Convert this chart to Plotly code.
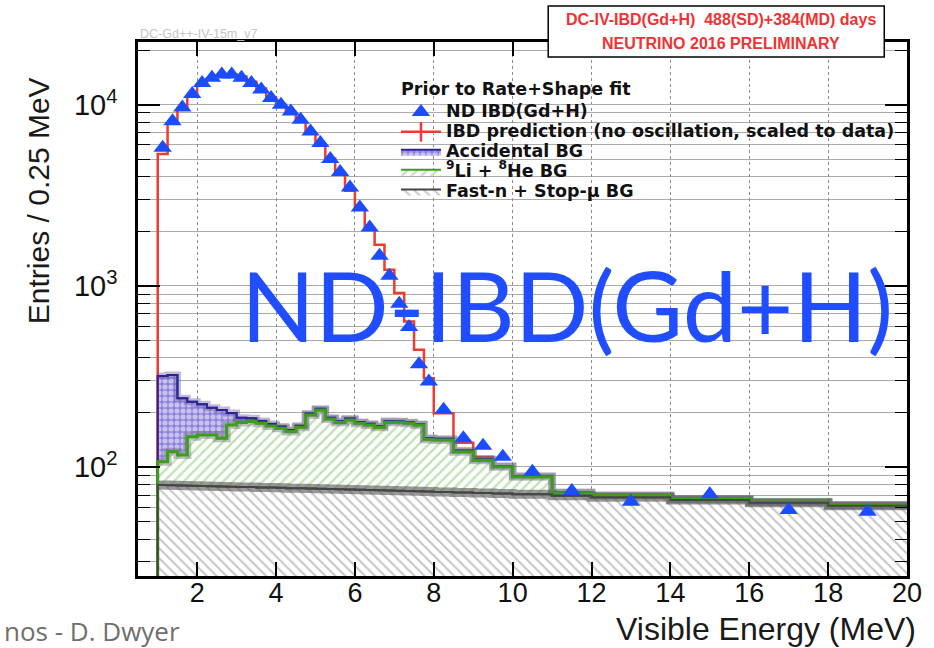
import numpy as np
import plotly.graph_objects as go

# ---------------------------------------------------------------- data
# Visible-energy binning (MeV): 0.25 MeV bins to 8 MeV, then 0.5, 1 and 2 MeV bins
BIN_EDGES = [1.0, 1.25, 1.5, 1.75, 2.0, 2.25, 2.5, 2.75, 3.0, 3.25, 3.5, 3.75,
             4.0, 4.25, 4.5, 4.75, 5.0, 5.25, 5.5, 5.75, 6.0, 6.25, 6.5, 6.75,
             7.0, 7.25, 7.5, 7.75, 8.0, 8.5, 9.0, 9.5, 10.0, 11.0, 12.0,
             14.0, 16.0, 18.0, 20.0]

# ND IBD(Gd+H) candidates, entries / 0.25 MeV
ND_DATA = [5780, 8090, 9660, 11460, 13190, 14070, 14660, 14660, 14070, 13190,
           12110, 10890, 10000, 9180, 8260, 7110, 6140, 5010, 4250, 3490,
           2710, 2100, 1465, 1135, 796, 592, 369, 296,
           207, 144, 131, 114, 94.2, 73.7, 64.3, 70.6, 57.9, 56.6]

# IBD prediction (no oscillation, scaled to data), signal + backgrounds
PREDICTION = [5350, 7900, 9500, 11300, 13000, 14000, 14600, 14700, 14300, 13400,
              12300, 11000, 10000, 9100, 8100, 7000, 6000, 5050, 4200, 3350,
              2650, 2060, 1687, 1225, 912, 635, 443, 309,
              198, 136, 114, 101, 89.0, 72.5, 69.8, 66.4, 64.0, 61.5]

# Background components (stacked: fast-n, then 9Li+8He, then accidentals)
FASTN_BG = [79.5, 79.2, 79.0, 78.8, 78.5, 78.3, 78.1, 77.8, 77.6, 77.4,
            77.1, 76.9, 76.7, 76.4, 76.2, 76.0, 75.7, 75.5, 75.3, 75.0,
            74.8, 74.6, 74.3, 74.1, 73.9, 73.6, 73.4, 73.2,
            72.8, 72.3, 71.8, 71.3, 70.6, 69.4, 68.0, 65.8, 63.5, 61.0]
LI_HE_BG = [27.5, 42.3, 37.5, 68.2, 71.5, 71.9, 65.9, 92.8, 98.1, 100.6,
            97.2, 91.5, 86.8, 80.3, 89.4, 117.8, 130.8, 108.7, 100.4, 106.9,
            99.5, 96.0, 91.3, 102.5, 102.7, 100.7, 97.2, 69.0,
            68.2, 49.2, 37.2, 29.1, 17.8, 2.7, 1.5, 0.4, 0.3, 0.3]
ACCIDENTAL_BG = [211, 200, 123, 82, 72, 62, 62, 28, 11, 8,
                 5, 4, 4, 3.5, 3.5, 3.2, 3.0, 3.0, 3.0, 3.0,
                 2.8, 2.8, 2.6, 2.5, 2.4, 2.3, 2.2, 2.2,
                 2.0, 1.6, 1.2, 0.9, 0.6, 0.4, 0.3, 0.2, 0.2, 0.2]

Y_TICKS = [100, 1000, 10000]
Y_TICK_TEXT = ["10<sup>2</sup>", "10<sup>3</sup>", "10<sup>4</sup>"]
X_TICKS = [2, 4, 6, 8, 10, 12, 14, 16, 18, 20]

# ---------------------------------------------------------------- layout constants
W, H = 934, 648
L, R, T, B = 138, 18, 42, 72          # plot-area margins (px)
X_RANGE = [0.5, 20.0]
Y_RANGE = [1.398, 4.346]              # log10 of axis limits
Y_FLOOR = 1.0                         # below the axis: histogram edges start here

SANS = "Liberation Sans, Arial, sans-serif"
WIDE = "DejaVu Sans, Liberation Sans, sans-serif"
LEG_PX = 17.5                         # legend label size (entries spaced by a 13 px legend font)

RED = "#ee3b2d"
BLUE_DATA = "#1b4dff"
GREEN = "#3c9e1e"
ACC_LINE = "#2c2590"
FAST_LINE = "#454545"


def px_x(px):
    return (px - L) / (W - L - R)


def px_y(py):
    return (H - B - py) / (H - T - B)


def leg(text):
    return '<span style="font-size:%.1fpx">%s</span>' % (LEG_PX, text)


edges = np.array(BIN_EDGES)
centers = 0.5 * (edges[:-1] + edges[1:])

fast_top = np.array(FASTN_BG)
li_top = fast_top + np.array(LI_HE_BG)
acc_top = li_top + np.array(ACCIDENTAL_BG)


def step(vals, from_floor=True):
    """Histogram outline for line_shape='hv', optionally rising from below the axis."""
    vals = np.asarray(vals, dtype=float)
    if from_floor:
        xs = np.concatenate([[edges[0]], edges])
        ys = np.concatenate([[Y_FLOOR], vals, [vals[-1]]])
    else:
        xs = edges.copy()
        ys = np.concatenate([vals, [vals[-1]]])
    return xs, ys


fig = go.Figure()

# ---- stacked, hatched background fills
x, y = step(fast_top)
fig.add_trace(go.Scatter(
    x=x, y=y, mode="lines", line=dict(shape="hv", width=2, color=FAST_LINE),
    fill="tozeroy",
    fillpattern=dict(shape="\\", fgcolor="#8a8a8a", bgcolor="white", size=7, solidity=0.28),
    name=leg("Fast-n + Stop-\u03bc BG"), legendrank=5, hoverinfo="skip"))

x, y = step(li_top)
fig.add_trace(go.Scatter(
    x=x, y=y, mode="lines", line=dict(shape="hv", width=2, color=GREEN),
    fill="tonexty",
    fillpattern=dict(shape="/", fgcolor="#80c66c", bgcolor="white", size=7, solidity=0.33),
    name=leg("<sup>9</sup>Li + <sup>8</sup>He BG"), legendrank=4, hoverinfo="skip"))

x, y = step(acc_top)
fig.add_trace(go.Scatter(
    x=x, y=y, mode="lines", line=dict(shape="hv", width=2, color=ACC_LINE),
    fill="tonexty",
    fillpattern=dict(shape=".", fgcolor="white", bgcolor="#8f84dc", size=6, solidity=0.55),
    name=leg("Accidental BG"), legendrank=3, hoverinfo="skip"))

# ---- IBD prediction
x, y = step(PREDICTION)
fig.add_trace(go.Scatter(
    x=x, y=y, mode="lines", line=dict(shape="hv", width=2.5, color=RED),
    showlegend=False, hoverinfo="skip"))

# ---- background uncertainty bands, then outlines (upper stack first, lower on top)
stack = [(acc_top, "rgba(95,85,160,0.40)", 7, ACC_LINE, 2.0),
         (li_top, "rgba(115,115,115,0.45)", 8, GREEN, 3.0),
         (fast_top, "rgba(85,85,85,0.60)", 9, FAST_LINE, 2.0)]
for vals, band, bw, _, _ in stack:
    x, y = step(vals, from_floor=False)
    fig.add_trace(go.Scatter(x=x, y=y, mode="lines",
                             line=dict(shape="hv", width=bw, color=band),
                             showlegend=False, hoverinfo="skip"))
for vals, _, _, col, w in stack:
    x, y = step(vals)
    fig.add_trace(go.Scatter(x=x, y=y, mode="lines",
                             line=dict(shape="hv", width=w, color=col),
                             showlegend=False, hoverinfo="skip"))

# ---- legend entry for the prediction (line with error-bar tick)
fig.add_trace(go.Scatter(
    x=[None], y=[None], mode="lines+markers",
    line=dict(color=RED, width=2.5),
    marker=dict(symbol="line-ns", size=14, line=dict(color=RED, width=2.5)),
    name=leg("IBD prediction (no oscillation, scaled to data)"), legendrank=2))

# ---- ND data
fig.add_trace(go.Scatter(
    x=centers, y=ND_DATA, mode="markers",
    marker=dict(symbol="triangle-up", size=16, color=BLUE_DATA),
    name=leg("ND IBD(Gd+H)"), legendrank=1))

# ---------------------------------------------------------------- axes
fig.update_xaxes(
    range=X_RANGE, tickvals=X_TICKS, ticks="inside", ticklen=14, tickwidth=1.5,
    tickcolor="black", showline=True, linewidth=2.5, linecolor="black", mirror="ticks",
    showgrid=True, gridcolor="#8c8c8c", gridwidth=1, griddash="dot", zeroline=False,
    ticklabelstandoff=-9,
    tickfont=dict(family=SANS, size=27, color="#111111"))
fig.update_yaxes(
    type="log", range=Y_RANGE, tickvals=Y_TICKS, ticktext=Y_TICK_TEXT,
    ticks="inside", ticklen=22, tickwidth=1.5, tickcolor="black",
    showline=True, linewidth=2.5, linecolor="black", mirror="ticks",
    showgrid=True, gridcolor="#ababab", gridwidth=1, zeroline=False,
    ticklabelstandoff=12,
    tickfont=dict(family=SANS, size=29, color="#111111"),
    minor=dict(dtick="D1", ticks="inside", ticklen=12, tickwidth=1.2, tickcolor="black",
               showgrid=True, gridcolor="#ababab", gridwidth=1))

# ---------------------------------------------------------------- text
ann = []
ann.append(dict(text="Entries / 0.25 MeV", textangle=-90, xref="paper", yref="paper",
                x=px_x(38), y=px_y(201), xanchor="center", yanchor="middle", showarrow=False,
                font=dict(family=SANS, size=30, color="#1a1a1a")))
ann.append(dict(text="Visible Energy (MeV)", xref="paper", yref="paper",
                x=px_x(927), y=px_y(629), xanchor="right", yanchor="middle", showarrow=False,
                font=dict(family=SANS, size=32, color="#1a1a1a")))
ann.append(dict(text="ND-IBD(Gd+H)", xref="paper", yref="paper",
                x=px_x(572), y=px_y(304), xanchor="center", yanchor="middle", showarrow=False,
                font=dict(family="Lato, sans-serif", size=97, color="#1f4dff")))
ann.append(dict(text="<b>Prior to Rate+Shape fit</b>", xref="paper", yref="paper",
                x=px_x(402), y=px_y(89), xanchor="left", yanchor="middle", showarrow=False,
                font=dict(family=WIDE, size=LEG_PX, color="#111111")))
ann.append(dict(text="DC-Gd++-IV-15m_v7", xref="paper", yref="paper",
                x=px_x(138), y=px_y(34), xanchor="left", yanchor="middle", showarrow=False,
                font=dict(family=SANS, size=12.5, color="#c4c4c4")))
ann.append(dict(text="<b>DC-IV-IBD(Gd+H)  488(SD)+384(MD) days</b>", xref="paper", yref="paper",
                x=px_x(728), y=px_y(20), xanchor="center", yanchor="middle", showarrow=False,
                font=dict(family=SANS, size=16, color="#ee3333")))
ann.append(dict(text="<b>NEUTRINO 2016 PRELIMINARY</b>", xref="paper", yref="paper",
                x=px_x(728), y=px_y(43), xanchor="center", yanchor="middle", showarrow=False,
                font=dict(family=SANS, size=16, color="#ee3333")))
ann.append(dict(text="nos - D. Dwyer", xref="paper", yref="paper",
                x=px_x(0), y=px_y(631), xanchor="left", yanchor="middle", showarrow=False,
                font=dict(family="Open Sans, sans-serif", size=26, color="#6e6e6e")))

shapes = [dict(type="rect", xref="paper", yref="paper", layer="above",
               x0=px_x(553), x1=px_x(893), y0=px_y(57), y1=px_y(6),
               fillcolor="white", line=dict(color="black", width=1.5))]

fig.update_layout(
    width=W, height=H, autosize=False,
    margin=dict(l=L, r=R, t=T, b=B, pad=0),
    paper_bgcolor="white", plot_bgcolor="white",
    annotations=ann, shapes=shapes,
    legend=dict(x=px_x(399), y=px_y(97), xanchor="left", yanchor="top",
                traceorder="normal",
                bgcolor="rgba(0,0,0,0)", borderwidth=0,
                font=dict(family=WIDE, size=13, color="#111111", weight="bold"),
                itemwidth=40, tracegroupgap=0),
)

fig.write_html("out.html")
